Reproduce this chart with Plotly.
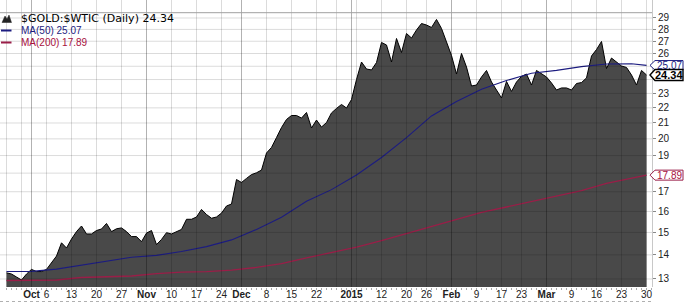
import math
import pandas as pd
import plotly.graph_objects as go

# ---------------- data ----------------
holidays = ["2014-11-27", "2014-12-25", "2015-01-01", "2015-01-19", "2015-02-16"]
dates = [d for d in pd.bdate_range("2014-09-24", "2015-03-30")
         if d.strftime("%Y-%m-%d") not in holidays]

ratio = [
    13.25, 13.20, 13.08, 12.96, 13.20, 13.39, 13.30, 13.30, 13.39, 13.68,
    13.95, 14.53, 14.30, 14.70, 15.04, 15.30, 14.93, 14.93, 15.09, 15.16,
    15.42, 15.04, 15.17, 15.21, 15.04, 14.81, 14.81, 14.58, 14.97, 15.09,
    14.45, 14.68, 14.99, 14.93, 15.04, 15.14, 15.62, 15.62, 15.73, 16.10,
    15.85, 15.67, 15.73, 15.92, 16.27, 16.37, 17.65, 17.49, 17.71, 17.92,
    18.02, 18.17, 19.15, 19.48, 20.08, 20.71, 21.23, 21.49, 21.49, 21.32,
    21.69, 20.68, 21.19, 20.74, 21.03, 21.66, 21.96, 22.23, 21.99, 22.57,
    24.00, 25.33, 24.79, 24.72, 25.29, 26.90, 26.69, 25.33, 27.23, 26.08,
    27.65, 27.27, 27.95, 28.51, 28.38, 28.17, 28.87, 28.08, 26.94, 25.84,
    24.41, 26.00, 24.94, 23.53, 23.60, 24.19, 24.68, 23.82, 23.24, 22.68,
    23.86, 23.14, 23.82, 24.23, 24.41, 23.60, 24.68, 24.45, 24.19, 23.75,
    23.24, 23.39, 23.39, 23.24, 23.71, 23.78, 24.12, 25.80, 26.32, 26.98,
    24.83, 25.64, 25.33, 25.02, 24.91, 24.34, 23.60, 24.68, 24.34,
]

# moving averages sampled every 5 trading days (plus the last day)
ma50 = [13.30, 13.31, 13.40, 13.57, 13.74, 13.90, 13.98, 14.15, 14.36, 14.66,
        15.14, 15.72, 16.51, 17.11, 17.90, 18.89, 20.08, 21.46, 22.44, 23.29,
        23.93, 24.47, 24.69, 24.97, 25.18, 25.20, 25.07]
ma200 = [12.94, 12.95, 12.96, 13.06, 13.08, 13.12, 13.22, 13.28, 13.30, 13.36,
         13.47, 13.63, 13.87, 14.10, 14.34, 14.63, 14.95, 15.31, 15.63, 15.95,
         16.22, 16.50, 16.80, 17.06, 17.44, 17.71, 17.89]

last_ratio, last_ma50, last_ma200 = 24.34, 25.07, 17.89

tick_dates = ["2014-10-01", "2014-10-06", "2014-10-13", "2014-10-20", "2014-10-27",
              "2014-11-03", "2014-11-10", "2014-11-17", "2014-11-24",
              "2014-12-01", "2014-12-08", "2014-12-15", "2014-12-22",
              "2015-01-02", "2015-01-12", "2015-01-20", "2015-01-26",
              "2015-02-02", "2015-02-09", "2015-02-17", "2015-02-23",
              "2015-03-02", "2015-03-09", "2015-03-16", "2015-03-23", "2015-03-30"]
tick_labels = ["Oct", "6", "13", "20", "27", "Nov", "10", "17", "24",
               "Dec", "8", "15", "22", "2015", "12", "20", "26",
               "Feb", "9", "17", "23", "Mar", "9", "16", "23", "30"]
bold_labels = ["Oct", "Nov", "Dec", "2015", "Feb", "Mar"]
y_ticks = list(range(13, 30))
y_hidden = [18, 24, 25]   # labels covered by the value tags

# ---------------- geometry helpers ----------------
W, H = 691, 303
PL, PR, PT, PB = 6, 652, 0, 287


def px(xp):
    return (xp - PL) / (PR - PL)


def py(yp):
    return 1 - (yp - PT) / (PB - PT)


n = len(dates)
xs = list(range(n))
pos = {d.strftime("%Y-%m-%d"): i for i, d in enumerate(dates)}
ma_x = list(range(0, n, 5)) + [n - 1]

y_lo, y_hi = 12.684, 30.649
yr = [math.log10(y_lo), math.log10(y_hi)]

NAVY = "#1c1c80"
CRIM = "#9a1e48"
CRIM_T = "#a8103e"

fig = go.Figure()
fig.add_trace(go.Scatter(x=xs, y=[y_lo] * n, mode="lines", line=dict(width=0),
                         hoverinfo="skip", showlegend=False))
fig.add_trace(go.Scatter(x=xs, y=ratio, mode="lines", fill="tonexty",
                         fillcolor="#494949", line=dict(color="#000000", width=1),
                         showlegend=False))
fig.add_trace(go.Scatter(x=ma_x, y=ma200, mode="lines",
                         line=dict(color=CRIM, width=1.3), showlegend=False))
fig.add_trace(go.Scatter(x=ma_x, y=ma50, mode="lines",
                         line=dict(color=NAVY, width=1.1), showlegend=False))

shapes = []
# horizontal grid lines
for v in y_ticks:
    shapes.append(dict(type="line", xref="paper", yref="y", x0=px(0), x1=1, y0=v, y1=v,
                       line=dict(color="rgba(0,0,0,0.14)", width=1), layer="above"))
# vertical grid lines: week starts and month starts
for i, d in enumerate(dates):
    week = i == 0 or d.isocalendar()[1] != dates[i - 1].isocalendar()[1]
    month = i > 0 and d.month != dates[i - 1].month
    if month:
        col = "rgba(0,0,0,0.30)"
    elif week:
        col = "rgba(0,0,0,0.14)"
    else:
        continue
    shapes.append(dict(type="line", xref="x", yref="paper", x0=i, x1=i, y0=0, y1=1,
                       line=dict(color=col, width=1), layer="above"))
# pane top line
shapes.append(dict(type="line", xref="paper", yref="paper", x0=px(0), x1=1,
                   y0=py(12.7), y1=py(12.7), line=dict(color="#a0a0a0", width=1)))
# bottom dotted line
shapes.append(dict(type="line", xref="paper", yref="paper", x0=px(0), x1=1,
                   y0=py(301.5), y1=py(301.5), line=dict(color="#b0b0b0", width=1, dash="dot")))

# value tags on the right axis
for val, col, lw, hh in [(last_ma50, NAVY, 1, 4.8), (last_ma200, CRIM, 1, 5), (last_ratio, "#000000", 1.4, 5.5)]:
    path = f"M -2,0 L 3,{hh} L 31,{hh} L 31,{-hh} L 3,{-hh} Z"
    shapes.append(dict(type="path", xref="paper", yref="y", xsizemode="pixel", ysizemode="pixel",
                       xanchor=1, yanchor=val, path=path, fillcolor="white",
                       line=dict(color=col, width=lw), layer="above"))

# legend glyphs
shapes.append(dict(type="path", xref="paper", yref="paper",
                   path=(f"M {px(2)},{py(22.5)} L {px(5)},{py(16)} L {px(7)},{py(19)} "
                         f"L {px(9)},{py(15)} L {px(11.5)},{py(22.5)} Z"),
                   fillcolor="#222", line=dict(color="#222", width=0.5)))
shapes.append(dict(type="line", xref="paper", yref="paper", x0=px(1), x1=px(11.5),
                   y0=py(30.5), y1=py(30.5), line=dict(color=NAVY, width=2)))
shapes.append(dict(type="line", xref="paper", yref="paper", x0=px(1), x1=px(11.5),
                   y0=py(42.5), y1=py(42.5), line=dict(color=CRIM, width=2)))

annotations = [
    dict(xref="paper", yref="paper", x=px(19), y=py(18.5), xanchor="left", yanchor="middle",
         text=f"$GOLD:$WTIC (Daily) {last_ratio:.2f}", showarrow=False,
         font=dict(family="DejaVu Sans", size=11, color="#000")),
    dict(xref="paper", yref="paper", x=px(19), y=py(30.5), xanchor="left", yanchor="middle",
         text=f"MA(50) {last_ma50:.2f}", showarrow=False,
         font=dict(family="Liberation Sans", size=10, color=NAVY)),
    dict(xref="paper", yref="paper", x=px(19), y=py(42.5), xanchor="left", yanchor="middle",
         text=f"MA(200) {last_ma200:.2f}", showarrow=False,
         font=dict(family="Liberation Sans", size=10, color=CRIM_T)),
]
for val, col, bold, sz in [(last_ma50, NAVY, False, 10), (last_ma200, CRIM_T, False, 10),
                           (last_ratio, "#000", True, 11)]:
    t = f"{val:.2f}"
    annotations.append(dict(xref="paper", yref="y", x=px(669), y=math.log10(val),
                            xanchor="center", yanchor="middle", showarrow=False,
                            text=f"<b>{t}</b>" if bold else t,
                            font=dict(family="Liberation Sans", size=sz, color=col)))

tickvals = [pos[d] for d in tick_dates]
ticktext = [f"<b>{t}</b>" if t in bold_labels else t for t in tick_labels]

fig.update_layout(
    width=W, height=H,
    margin=dict(l=PL, r=W - PR, t=PT, b=H - PB),
    paper_bgcolor="white", plot_bgcolor="white",
    showlegend=False,
    shapes=shapes,
    annotations=annotations,
    xaxis=dict(range=[-0.1, 129.1], tickmode="array", tickvals=tickvals, ticktext=ticktext,
               ticks="", showgrid=False, zeroline=False, showline=False, tickangle=0,
               tickfont=dict(family="Liberation Sans", size=10, color="#222"),
               minor=dict(ticks="outside", tickmode="linear", tick0=0, dtick=1,
                          ticklen=2, tickcolor="#aaaaaa", showgrid=False)),
    yaxis=dict(type="log", range=yr, side="right", tickmode="array", tickvals=y_ticks,
               ticktext=["" if v in y_hidden else str(v) for v in y_ticks],
               showgrid=False, zeroline=False,
               showline=True, linecolor="#c8c8c8", ticks="outside", ticklen=3,
               tickcolor="#888888",
               tickfont=dict(family="Liberation Sans", size=10, color="#222")),
)

fig.write_html("out.html")
